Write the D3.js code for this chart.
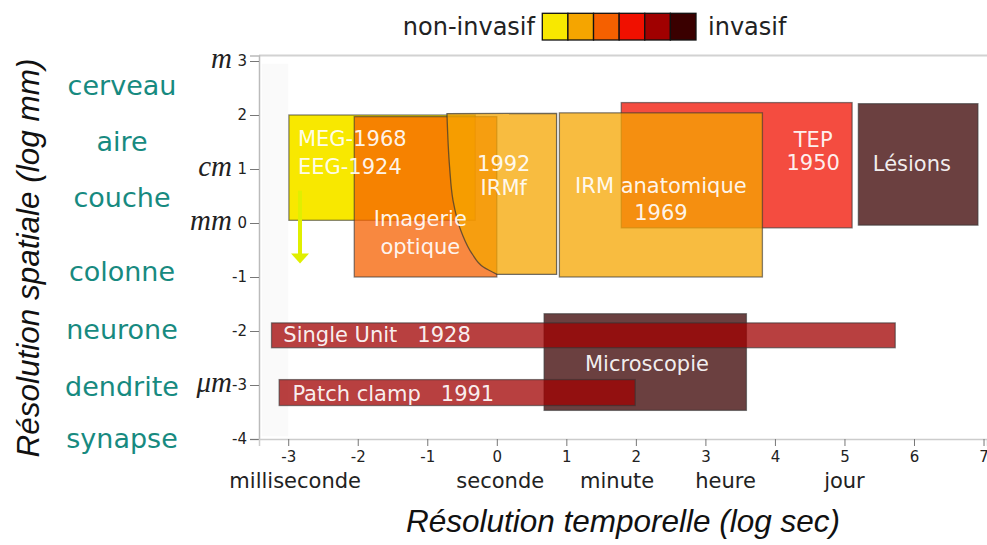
<!DOCTYPE html>
<html>
<head>
<meta charset="utf-8">
<script src="https://cdn.jsdelivr.net/npm/d3@7"></script>
<style>
  body { margin: 0; background: #fff; }
  svg { display: block; font-family: "DejaVu Sans", sans-serif; }
</style>
</head>
<body>
<svg width="987" height="545"></svg>
<script>
// invasiveness scale (0 = non-invasif ... 5 = invasif)
var levelColors = ["#f8e800", "#f5a500", "#f56000", "#f01000", "#a00000", "#3a0000"];

// methods, in drawing order (log sec / log mm ranges)
var methods = ["EEG/MEG", "Imagerie optique", "TEP", "Lésions", "IRMf", "IRM anatomique", "Microscopie", "Single Unit", "Patch clamp"];
var tMin = [-2.99, -2.05, 1.79, 5.20, -0.72, 0.90, 0.68, -3.24, -3.13];
var tMax = [-0.31, 0.00, 5.11, 6.92, 0.86, 3.82, 3.59, 5.73, 1.99];
var sMin = [0.05, -1.00, -0.09, -0.04, -0.95, -1.00, -3.47, -2.31, -3.38];
var sMax = [2.00, 1.97, 2.23, 2.21, 2.03, 2.04, -1.68, -1.85, -2.90];
var level = [0, 2, 3, 5, 1, 1, 5, 4, 4];

// left edge of the IRMf area (haemodynamic delay curve)
var irmfEdgeT = [-0.717, -0.679, -0.630, -0.501, -0.357, -0.194, 0.003];
var irmfEdgeS = [2.026, 1.037, 0.42, -0.196, -0.567, -0.815, -0.95];

// EEG/MEG arrow towards smaller scales
var arrowT = -2.83, arrowFrom = 0.6, arrowTo = -0.75;

// text inside the boxes
var labelText = ["MEG-1968", "EEG-1924", "Imagerie", "optique", "1992", "IRMf", "IRM anatomique", "1969", "TEP", "1950", "Lésions", "Microscopie", "Single Unit   1928", "Patch clamp   1991"];
var labelT = [-2.86, -2.86, -1.10, -1.10, 0.10, 0.10, 2.36, 2.36, 4.55, 4.55, 5.97, 2.16, -3.07, -2.94];
var labelS = [1.57, 1.04, 0.09, -0.43, 1.11, 0.66, 0.69, 0.20, 1.55, 1.13, 1.11, -2.60, -2.06, -3.16];
var labelLeft = ["MEG-1968", "EEG-1924", "Single Unit   1928", "Patch clamp   1991"];

// axis ticks and names
var sTicks = [-4, -3, -2, -1, 0, 1, 2, 3];
var tTicks = [-3, -2, -1, 0, 1, 2, 3, 4, 5, 6, 7];
var unitText = ["m", "cm", "mm", "μm"];
var unitS = [3, 1, 0, -3];
var scaleText = ["cerveau", "aire", "couche", "colonne", "neurone", "dendrite", "synapse"];
var scaleS = [2.55, 1.5, 0.48, -0.9, -1.98, -3.03, -4.0];
var timeText = ["milliseconde", "seconde", "minute", "heure", "jour"];
var timeT = [-2.9, 0.05, 1.73, 3.29, 5.0];

var svg = d3.select("svg");
var x = d3.scaleLinear().domain([-3.42, 7.05]).range([259, 987]);
var y = d3.scaleLinear().domain([-4, 3.1]).range([439, 55.6]);

// faint band along the left spine
svg.append("rect").attr("x", x(-3.38)).attr("y", y(2.95))
    .attr("width", x(-3.0) - x(-3.38)).attr("height", y(-3.95) - y(2.95))
    .attr("fill", "#fafafa");

// frame
svg.append("line").attr("x1", x(-3.42)).attr("x2", x(7.05)).attr("y1", y(3.1)).attr("y2", y(3.1))
    .attr("stroke", "#d2d2d2").attr("stroke-width", 2);

// boxes
var g = svg.append("g");
methods.forEach(function (m, i) {
    var col = levelColors[level[i]];
    var op = level[i] === 0 ? 1 : 0.75;
    if (m === "IRMf") {
        var pts = irmfEdgeT.map(function (t, j) { return [x(t), y(irmfEdgeS[j])]; });
        var edge = d3.line().curve(d3.curveMonotoneY)(pts);
        var d = edge + "L" + x(tMax[i]) + "," + y(sMin[i]) + "L" + x(tMax[i]) + "," + y(sMax[i]) + "Z";
        g.append("path").attr("d", d)
            .attr("fill", col).attr("fill-opacity", op)
            .attr("stroke", "#333").attr("stroke-opacity", 0.7).attr("stroke-width", 1.3);
    } else {
        g.append("rect")
            .attr("x", x(tMin[i])).attr("y", y(sMax[i]))
            .attr("width", x(tMax[i]) - x(tMin[i])).attr("height", y(sMin[i]) - y(sMax[i]))
            .attr("fill", col).attr("fill-opacity", op)
            .attr("stroke", "#333").attr("stroke-opacity", 0.6).attr("stroke-width", 1.3);
    }
});

// arrow
svg.append("line").attr("x1", x(arrowT)).attr("x2", x(arrowT))
    .attr("y1", y(arrowFrom)).attr("y2", y(arrowTo) - 8)
    .attr("stroke", "#e0ef00").attr("stroke-width", 4);
svg.append("path")
    .attr("d", "M" + (x(arrowT) - 9) + "," + (y(arrowTo) - 10) + "L" + (x(arrowT) + 9) + "," + (y(arrowTo) - 10) + "L" + x(arrowT) + "," + y(arrowTo) + "Z")
    .attr("fill", "#e0ef00");

// labels in boxes
svg.append("g").selectAll("text").data(labelText).join("text")
    .attr("x", function (d, i) { return x(labelT[i]); })
    .attr("y", function (d, i) { return y(labelS[i]); })
    .attr("dy", "0.36em")
    .attr("text-anchor", function (d) { return labelLeft.indexOf(d) >= 0 ? "start" : "middle"; })
    .style("white-space", "pre")
    .attr("font-size", 21).attr("fill", "#fff").attr("fill-opacity", 0.93)
    .text(function (d) { return d; });

// left axis
var yAxis = svg.append("g").attr("transform", "translate(" + x(-3.42) + ",0)")
    .call(d3.axisLeft(y).tickValues(sTicks).tickSize(9).tickPadding(3).tickFormat(function (d) { return String(d); }));
yAxis.select(".domain").attr("stroke", "#bbb").attr("stroke-width", 1.5);
yAxis.selectAll(".tick line").attr("stroke", "#777");
yAxis.selectAll(".tick text").attr("font-size", 15).attr("fill", "#222").attr("font-family", "DejaVu Sans");

// bottom axis
var xAxis = svg.append("g").attr("transform", "translate(0," + y(-4) + ")")
    .call(d3.axisBottom(x).tickValues(tTicks).tickSize(7).tickPadding(5).tickFormat(function (d) { return String(d); }));
xAxis.select(".domain").attr("stroke", "#ccc").attr("stroke-width", 1.5);
xAxis.selectAll(".tick line").attr("stroke", "#777");
xAxis.selectAll(".tick text").attr("font-size", 15).attr("fill", "#222").attr("font-family", "DejaVu Sans");

// unit names next to the left ticks
svg.append("g").selectAll("text").data(unitText).join("text")
    .attr("x", 232).attr("y", function (d, i) { return y(unitS[i]) + 6.5; })
    .attr("text-anchor", "end")
    .attr("font-family", "Liberation Serif, serif").attr("font-style", "italic")
    .attr("font-size", 29).attr("fill", "#222")
    .text(function (d) { return d; });

// brain scales
svg.append("g").selectAll("text").data(scaleText).join("text")
    .attr("x", 122).attr("y", function (d, i) { return y(scaleS[i]); })
    .attr("dy", "0.35em").attr("text-anchor", "middle")
    .attr("font-size", 27).attr("fill", "#178a80")
    .text(function (d) { return d; });

// time names
svg.append("g").selectAll("text").data(timeText).join("text")
    .attr("x", function (d, i) { return x(timeT[i]); }).attr("y", 488)
    .attr("text-anchor", "middle")
    .attr("font-size", 21).attr("fill", "#222")
    .text(function (d) { return d; });

// axis titles
svg.append("text").attr("x", 623).attr("y", 532).attr("text-anchor", "middle")
    .attr("font-family", "Liberation Sans, Arial, sans-serif").attr("font-style", "italic")
    .attr("font-size", 31.5).attr("fill", "#111")
    .text("Résolution temporelle (log sec)");
svg.append("text").attr("transform", "translate(39,258) rotate(-90)").attr("text-anchor", "middle")
    .attr("font-family", "Liberation Sans, Arial, sans-serif").attr("font-style", "italic")
    .attr("font-size", 31.5).attr("fill", "#111")
    .text("Résolution spatiale (log mm)");

// legend
var lx = d3.scaleBand().domain(d3.range(levelColors.length)).range([542.3, 696]);
var leg = svg.append("g");
leg.selectAll("rect").data(levelColors).join("rect")
    .attr("x", function (d, i) { return lx(i); }).attr("y", 13.3)
    .attr("width", lx.bandwidth()).attr("height", 26.7)
    .attr("fill", function (d) { return d; })
    .attr("stroke", "#111").attr("stroke-width", 1.3);
leg.append("text").attr("x", 535).attr("y", 35).attr("text-anchor", "end")
    .attr("font-size", 24).attr("fill", "#222").text("non-invasif");
leg.append("text").attr("x", 708).attr("y", 35)
    .attr("font-size", 24).attr("fill", "#222").text("invasif");
</script>
</body>
</html>
